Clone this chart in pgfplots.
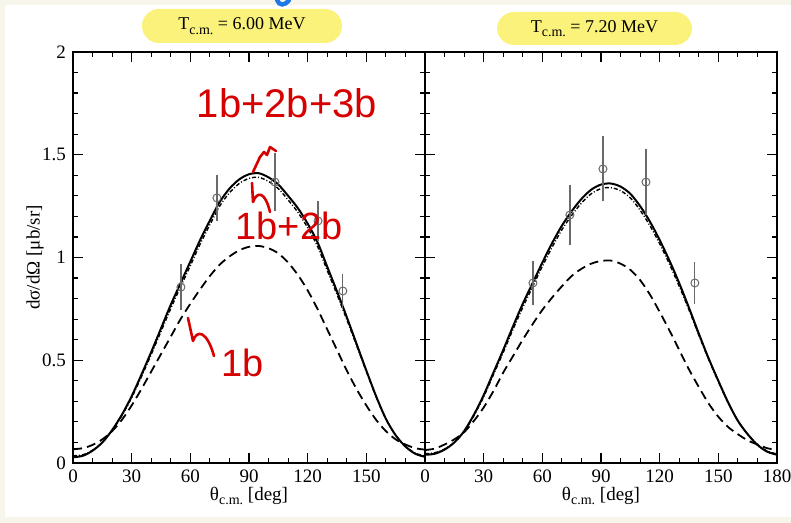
\documentclass[border=0pt]{standalone}
\usepackage{fontspec}
\setmainfont{Liberation Serif}
\newfontfamily\handfont{Liberation Sans}
\usepackage{pgfplots}
\pgfplotsset{compat=1.18}
\definecolor{cream}{RGB}{248,246,234}
\definecolor{boxyellow}{RGB}{250,242,122}
\definecolor{pen}{RGB}{214,0,0}
\definecolor{errgray}{RGB}{105,105,105}
\definecolor{inkblue}{RGB}{30,120,230}
\newcommand{\cm}{\raisebox{-0.55ex}{\fontsize{7}{8}\selectfont c.m.}}

\pgfplotsset{
  panel/.style={
    scale only axis, width=176pt, height=205.5pt,
    xmin=0, xmax=180, ymin=0, ymax=2,
    xtick={0,30,...,180}, minor x tick num=2,
    ytick={0,0.5,1,1.5,2}, minor y tick num=4,
    tick pos=both, xticklabel pos=lower, yticklabel pos=left,
    tick align=inside, major tick length=5pt, minor tick length=2.6pt,
    axis line style={line width=0.9pt},
    every tick/.style={black, line width=0.6pt},
    tick label style={font=\fontsize{9.5}{11}\selectfont},
    /pgf/number format/assume math mode=true,
    xlabel={θ\cm{} [deg]},
    xlabel style={font=\fontsize{9.5}{11}\selectfont, at={(axis description cs:0.5,-0.08)}, anchor=center},
  },
  full/.style={black, line width=1pt, smooth, no markers},
  twob/.style={black, line width=0.7pt, smooth, no markers, dash pattern=on 2pt off 1pt on 0.5pt off 1pt},
  oneb/.style={black, line width=0.9pt, smooth, no markers, dash pattern=on 4.5pt off 2.6pt},
  expt/.style={only marks, mark=o, mark size=2pt, errgray, mark options={line width=0.5pt},
    error bars/.cd, y dir=both, y explicit, error mark=none,
    error bar style={line width=0.6pt, errgray}},
}

\begin{document}
\begin{tikzpicture}
\path[use as bounding box] (-36.5pt,-30pt) rectangle (359pt,231.5pt);
\fill[cream] (-36.5pt,-30pt) rectangle (359pt,231.5pt);
\fill[white] (-34pt,-27pt) rectangle (359pt,229pt);

% T = 6.00 MeV
\begin{axis}[panel,
  xticklabels={0,30,60,90,120,150,{}},
  ylabel={dσ/dΩ [μb/sr]},
  ylabel style={font=\fontsize{9.5}{11}\selectfont, at={(axis description cs:-0.108,0.5)}, anchor=center}]
\addplot[oneb] coordinates {
 (0,0.067) (5,0.072) (10,0.088) (15,0.115) (20,0.155) (25,0.21) (30,0.28) (35,0.36)
 (40,0.445) (45,0.53) (50,0.615) (55,0.70) (60,0.775) (65,0.845) (70,0.91) (75,0.965)
 (80,1.005) (85,1.035) (90,1.052) (95,1.056) (100,1.045) (105,1.02) (110,0.975) (115,0.915)
 (120,0.84) (125,0.75) (130,0.65) (135,0.55) (140,0.45) (145,0.36) (150,0.28) (155,0.21)
 (160,0.155) (165,0.115) (170,0.09) (175,0.072) (180,0.065)};
\addplot[twob] coordinates {
 (0,0.035) (5,0.04) (10,0.062) (15,0.10) (20,0.158) (25,0.23) (30,0.318) (35,0.42)
 (40,0.528) (45,0.64) (50,0.752) (55,0.857) (60,0.96) (65,1.065) (70,1.16) (75,1.25)
 (80,1.315) (85,1.36) (90,1.385) (95,1.39) (100,1.37) (105,1.335) (110,1.28) (115,1.22)
 (120,1.145) (125,1.055) (130,0.937) (135,0.82) (140,0.698) (145,0.572) (150,0.445) (155,0.322)
 (160,0.214) (165,0.135) (170,0.082) (175,0.048) (180,0.034)};
\addplot[full] coordinates {
 (0,0.028) (5,0.035) (10,0.06) (15,0.10) (20,0.16) (25,0.235) (30,0.325) (35,0.43)
 (40,0.54) (45,0.655) (50,0.77) (55,0.875) (60,0.98) (65,1.085) (70,1.18) (75,1.27)
 (80,1.335) (85,1.38) (90,1.405) (95,1.41) (100,1.39) (105,1.355) (110,1.30) (115,1.24)
 (120,1.165) (125,1.075) (130,0.955) (135,0.835) (140,0.71) (145,0.58) (150,0.45) (155,0.325)
 (160,0.215) (165,0.135) (170,0.08) (175,0.045) (180,0.03)};
\addplot[expt] coordinates {
 (55.2,0.856) +- (0,0.11)
 (73.6,1.29) +- (0,0.11)
 (103.3,1.367) +- (0,0.14)
 (125.3,1.178) +- (0,0.097)
 (138.0,0.837) +- (0,0.085)};
\end{axis}

% T = 7.20 MeV
\begin{axis}[panel, at={(176pt,0pt)}, yticklabels={}]
\addplot[oneb] coordinates {
 (0,0.063) (5,0.07) (10,0.09) (15,0.115) (20,0.15) (25,0.205) (30,0.27) (35,0.35)
 (40,0.44) (45,0.52) (50,0.60) (55,0.675) (60,0.745) (65,0.805) (70,0.86) (75,0.91)
 (80,0.945) (85,0.97) (90,0.983) (95,0.985) (100,0.97) (105,0.94) (110,0.89) (115,0.82)
 (120,0.735) (125,0.645) (130,0.55) (135,0.455) (140,0.37) (145,0.29) (150,0.225) (155,0.175)
 (160,0.14) (165,0.11) (170,0.09) (175,0.072) (180,0.063)};
\addplot[twob] coordinates {
 (0,0.045) (5,0.05) (10,0.068) (15,0.10) (20,0.152) (25,0.23) (30,0.322) (35,0.43)
 (40,0.538) (45,0.65) (50,0.757) (55,0.857) (60,0.957) (65,1.05) (70,1.135) (75,1.205)
 (80,1.265) (85,1.31) (90,1.335) (95,1.34) (100,1.325) (105,1.29) (110,1.23) (115,1.155)
 (120,1.067) (125,0.968) (130,0.86) (135,0.745) (140,0.622) (145,0.505) (150,0.396) (155,0.293)
 (160,0.205) (165,0.14) (170,0.09) (175,0.058) (180,0.044)};
\addplot[full] coordinates {
 (0,0.04) (5,0.045) (10,0.065) (15,0.10) (20,0.155) (25,0.235) (30,0.33) (35,0.44)
 (40,0.55) (45,0.665) (50,0.775) (55,0.875) (60,0.975) (65,1.07) (70,1.155) (75,1.225)
 (80,1.285) (85,1.33) (90,1.355) (95,1.36) (100,1.345) (105,1.31) (110,1.25) (115,1.175)
 (120,1.085) (125,0.985) (130,0.875) (135,0.755) (140,0.63) (145,0.51) (150,0.40) (155,0.295)
 (160,0.205) (165,0.14) (170,0.088) (175,0.055) (180,0.04)};
\addplot[expt] coordinates {
 (55.2,0.876) +- (0,0.107)
 (74.1,1.207) +- (0,0.148)
 (91.0,1.431) +- (0,0.158)
 (113.0,1.367) +- (0,0.16)
 (138.0,0.876) +- (0,0.10)};
\end{axis}

% panel titles
\node[fill=boxyellow, rounded corners=8.5pt, minimum width=100pt, minimum height=17pt,
  inner sep=0pt, font=\fontsize{9}{11}\selectfont] at (84.5pt,218.5pt)
  {T\cm{} = 6.00 MeV};
\node[fill=boxyellow, rounded corners=8.5pt, minimum width=97.5pt, minimum height=16.5pt,
  inner sep=0pt, font=\fontsize{9}{11}\selectfont] at (260.75pt,217.25pt)
  {T\cm{} = 7.20 MeV};

% handwritten notes
\begin{scope}[pen, line width=1.3pt, line cap=round, line join=round]
\node[font=\handfont\fontsize{20}{24}\selectfont, inner sep=0pt] at (107pt,180pt) {1b+2b+3b};
\node[font=\handfont\fontsize{19}{22}\selectfont, inner sep=0pt] at (108pt,118.5pt) {1b+2b};
\node[font=\handfont\fontsize{19}{22}\selectfont, inner sep=0pt] at (85pt,50pt) {1b};
\draw (57.5pt,72.5pt) -- (60pt,61pt) .. controls (62pt,67pt) and (67pt,66pt) .. (70.5pt,53.5pt);
\draw (89.5pt,140pt) -- (90pt,130.5pt) .. controls (92pt,136pt) and (96pt,136pt) .. (98.5pt,125.5pt);
\draw (90pt,145.5pt) -- (93.5pt,153pt) -- (95.5pt,155.5pt) -- (97pt,154pt) -- (98.5pt,158pt) -- (101.5pt,156pt);
\end{scope}
\draw[inkblue, line width=2.2pt, line cap=round] (102pt,231.5pt) .. controls (103pt,228.5pt) and (106pt,228.5pt) .. (108pt,231.5pt);
\end{tikzpicture}
\end{document}
